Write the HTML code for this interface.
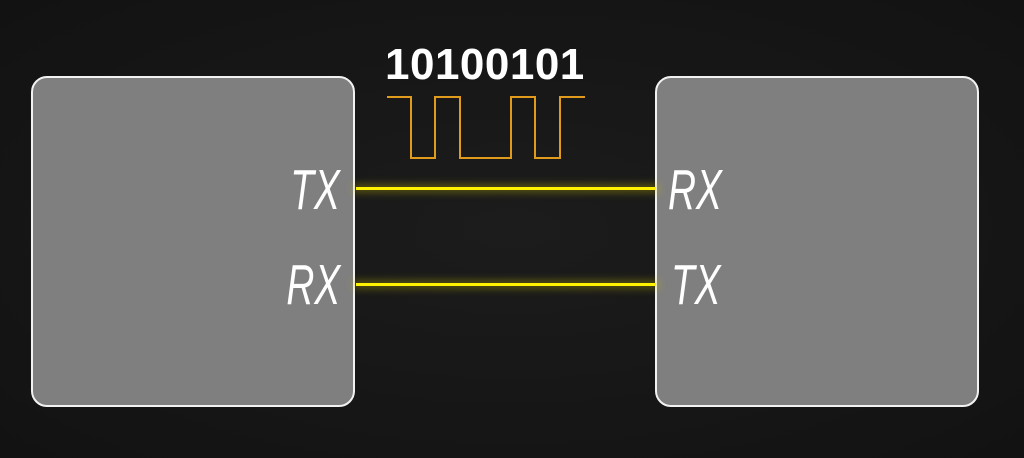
<!DOCTYPE html>
<html><head><style>
body{margin:0;width:1024px;height:458px;background:#161616;overflow:hidden;position:relative;font-family:"Liberation Sans",sans-serif}
.box{position:absolute;top:76px;width:320px;height:327px;background:#7f7f7f;border:2px solid #f2f2f2;border-radius:16px}
.lbl{position:absolute;color:#fff;font-style:italic;font-size:57px;line-height:57px;transform:scaleX(0.68);}
.l{transform-origin:right center;text-align:right}
.r{transform-origin:left center}
.line{position:absolute;left:356px;width:300px;height:3px;background:#fff200;box-shadow:0 0 8px 3px rgba(200,190,0,0.35)}
</style></head><body>
<div style="position:absolute;inset:0;background:radial-gradient(ellipse at 50% 50%,#1c1c1c,#121212)"></div>
<div class="box" style="left:31px"></div>
<div class="box" style="left:655px"></div>
<div class="line" style="top:187px"></div>
<div class="line" style="top:283px"></div>
<div class="lbl l" style="right:684px;top:162px">TX</div>
<div class="lbl l" style="right:684px;top:257px">RX</div>
<div class="lbl r" style="left:668px;top:162px">RX</div>
<div class="lbl r" style="left:671px;top:257px">TX</div>
<div style="position:absolute;left:385px;top:42px;color:#fff;font-weight:bold;font-size:44px;line-height:46px;letter-spacing:0.5px">10100101</div>
<svg style="position:absolute;left:0;top:0" width="1024" height="458">
<polyline points="387,97 411,97 411,158 435,158 435,97 460,97 460,158 511,158 511,97 535,97 535,158 560,158 560,97 585,97" fill="none" stroke="#e09a1c" stroke-width="2"/>
</svg>
</body></html>
